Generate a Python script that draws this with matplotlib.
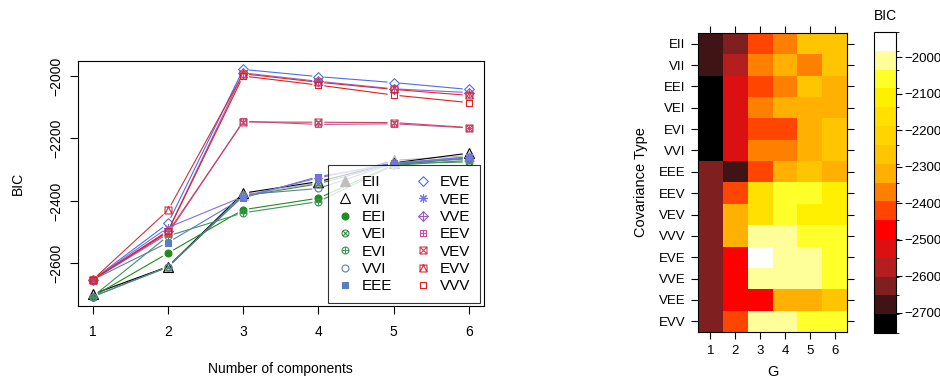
"""BIC curves per covariance model and a BIC heat map by G."""

import matplotlib

matplotlib.use("Agg")
import matplotlib.pyplot as plt
import numpy as np
from matplotlib.colors import BoundaryNorm, ListedColormap
from matplotlib.lines import Line2D
from matplotlib.path import Path

plt.rcParams["font.family"] = ["Liberation Sans", "DejaVu Sans"]

# ---- data -------------------------------------------------------------
components = [1, 2, 3, 4, 5, 6]
models = ["EII", "VII", "EEI", "VEI", "EVI", "VVI", "EEE",
          "EVE", "VEE", "VVE", "EEV", "VEV", "EVV", "VVV"]

bic_EII = [-2698, -2612, -2380, -2342, -2270, -2255]
bic_VII = [-2698, -2610, -2375, -2338, -2278, -2247]
bic_EEI = [-2706, -2567, -2428, -2391, -2284, -2262]
bic_VEI = [-2706, -2610, -2385, -2345, -2280, -2275]
bic_EVI = [-2706, -2512, -2438, -2402, -2286, -2270]
bic_VVI = [-2706, -2612, -2380, -2360, -2280, -2265]
bic_EEE = [-2652, -2533, -2390, -2322, -2281, -2258]
bic_EVE = [-2652, -2472, -1979, -2002, -2021, -2043]
bic_VEE = [-2652, -2485, -2386, -2326, -2278, -2260]
bic_VVE = [-2652, -2495, -1990, -2017, -2041, -2053]
bic_EEV = [-2652, -2505, -2145, -2155, -2153, -2166]
bic_VEV = [-2652, -2500, -2147, -2148, -2149, -2165]
bic_EVV = [-2652, -2430, -1993, -2020, -2043, -2062]
bic_VVV = [-2652, -2497, -2000, -2029, -2061, -2085]

bic_curves = [bic_EII, bic_VII, bic_EEI, bic_VEI, bic_EVI, bic_VVI, bic_EEE,
              bic_EVE, bic_VEE, bic_VVE, bic_EEV, bic_VEV, bic_EVV, bic_VVV]

# heat map (second fit), rows top to bottom, columns G = 1..6
heat_rows = ["EII", "VII", "EEI", "VEI", "EVI", "VVI", "EEE",
             "EEV", "VEV", "VVV", "EVE", "VVE", "VEE", "EVV"]
heat_g = [1, 2, 3, 4, 5, 6]
heat_bic = [
    [-2690, -2640, -2415, -2360, -2270, -2265],
    [-2690, -2590, -2375, -2330, -2380, -2262],
    [-2725, -2530, -2430, -2370, -2255, -2300],
    [-2725, -2528, -2365, -2320, -2315, -2310],
    [-2725, -2526, -2425, -2420, -2305, -2270],
    [-2725, -2526, -2375, -2372, -2305, -2268],
    [-2640, -2680, -2420, -2310, -2265, -2320],
    [-2640, -2410, -2160, -2060, -2065, -2100],
    [-2640, -2320, -2155, -2055, -2095, -2100],
    [-2640, -2320, -2010, -2005, -2050, -2055],
    [-2640, -2480, -1950, -2020, -2025, -2045],
    [-2640, -2480, -2015, -2020, -2020, -2045],
    [-2640, -2485, -2470, -2325, -2320, -2270],
    [-2640, -2420, -2000, -2005, -2060, -2060],
]
bic_ticks = [-2700, -2600, -2500, -2400, -2300, -2200, -2100, -2000]
level_lo, level_hi, n_levels = -2755, -1931, 16

# ---- styles -------------------------------------------------------------
MV = Path.MOVETO
LT = Path.LINETO
CP = Path.CLOSEPOLY
SQUARE = Path([(-1, -1), (1, -1), (1, 1), (-1, 1), (-1, -1)], [MV, LT, LT, LT, CP])
DIAMOND = Path([(0, -1), (1, 0), (0, 1), (-1, 0), (0, -1)], [MV, LT, LT, LT, CP])
PLUS = Path([(-1, 0), (1, 0), (0, -1), (0, 1)], [MV, LT, MV, LT])
CROSS_C = Path([(-0.71, -0.71), (0.71, 0.71), (-0.71, 0.71), (0.71, -0.71)], [MV, LT, MV, LT])
CROSS_S = Path([(-1, -1), (1, 1), (-1, 1), (1, -1)], [MV, LT, MV, LT])
TRI_S = Path([(-1, -1), (0, 1), (1, -1)], [MV, LT, LT])

markers = {
    "EII": ("^", True, 6.5), "VII": ("^", False, 6.5), "EEI": ("o", True, 5.0),
    "VEI": (Path.make_compound_path(Path.unit_circle(), CROSS_C), False, 5.0),
    "EVI": (Path.make_compound_path(Path.unit_circle(), PLUS), False, 5.0),
    "VVI": ("o", False, 5.0), "EEE": ("s", True, 5.0),
    "EVE": (DIAMOND, False, 7.0), "VEE": ((8, 2, 0), False, 6.0),
    "VVE": (Path.make_compound_path(DIAMOND, PLUS), False, 7.0),
    "EEV": (Path.make_compound_path(SQUARE, PLUS), False, 5.0),
    "VEV": (Path.make_compound_path(SQUARE, CROSS_S), False, 5.0),
    "EVV": (Path.make_compound_path(SQUARE, TRI_S), False, 5.0),
    "VVV": (SQUARE, False, 5.0),
}
colors = {
    "EII": "#bebebe", "VII": "#000000", "EEI": "#218b21", "VEI": "#41884f",
    "EVI": "#3f9656", "VVI": "#58819c", "EEE": "#597dc3", "EVE": "#4a6fe8",
    "VEE": "#7b72ea", "VVE": "#9b5fc8", "EEV": "#c0519e", "VEV": "#c9445f",
    "EVV": "#d12f3c", "VVV": "#e0201c",
}
heat_colors = ["#000000", "#401414", "#7f1f1f", "#b41e1e", "#dc1010", "#ff0000",
               "#ff4500", "#ff8000", "#ffb000", "#ffc500", "#ffd400", "#ffe000",
               "#fff000", "#ffff2a", "#ffff99", "#ffffff"]


def draw_gapped_line(ax, x, y, color, gap_px=6.0):
    """Connect points like R's type='b', leaving a gap around each point."""
    pts = ax.transData.transform(np.column_stack([x, y]))
    inv = ax.transData.inverted()
    for p0, p1 in zip(pts[:-1], pts[1:]):
        d = p1 - p0
        n = np.hypot(*d)
        if n <= 2 * gap_px:
            continue
        u = d / n
        seg = inv.transform(np.array([p0 + u * gap_px, p1 - u * gap_px]))
        ax.plot(seg[:, 0], seg[:, 1], color=color, lw=0.8, solid_capstyle="butt")


def plot_bic_curves(fig):
    ax = fig.add_axes([0.0827, 0.1969, 0.4319, 0.6430])
    ax.set_xlim(0.8, 6.2)
    ax.set_ylim(-2736, -1952)
    handles = []
    for name, vals in zip(models, bic_curves):
        mk, filled, ms = markers[name]
        col = colors[name]
        draw_gapped_line(ax, components, vals, col)
        kw = dict(marker=mk, markersize=ms, markeredgewidth=0.8, markeredgecolor=col,
                  markerfacecolor=col if filled else "none", linestyle="none")
        ax.plot(components, vals, **kw)
        handles.append(Line2D([], [], label=name, **kw))

    ax.set_xticks(components)
    ax.set_yticks([-2600, -2400, -2200, -2000])
    ax.tick_params(direction="out", length=6, width=0.8, labelsize=10)
    ax.tick_params(axis="x", pad=8)
    ax.tick_params(axis="y", pad=4)
    for lab in ax.get_yticklabels():
        lab.set_rotation(90)
        lab.set_va("center")
    for sp in ax.spines.values():
        sp.set_linewidth(0.8)
    ax.set_xlabel("Number of components", fontsize=10, labelpad=16)
    ax.set_ylabel("BIC", fontsize=10, labelpad=18)

    leg = ax.legend(handles=handles, ncol=2, loc="lower right",
                    bbox_to_anchor=(480 / 940, 1 - 303.3 / 381),
                    bbox_transform=fig.transFigure, borderaxespad=0,
                    fontsize=11, frameon=True, fancybox=False, edgecolor="black",
                    handlelength=1.0, handletextpad=0.6, columnspacing=1.5,
                    labelspacing=0.22, borderpad=0.65)
    leg.get_frame().set_linewidth(0.8)
    return ax


def plot_heatmap(fig):
    ax = fig.add_axes([0.7426, 0.1286, 0.1585, 0.7848])
    cmap = ListedColormap(heat_colors)
    norm = BoundaryNorm(np.linspace(level_lo, level_hi, n_levels + 1), n_levels)
    mesh = ax.pcolormesh(np.arange(0.5, len(heat_g) + 1), np.arange(-0.5, len(heat_rows)),
                         np.array(heat_bic), cmap=cmap, norm=norm)
    ax.set_ylim(len(heat_rows) - 0.5, -0.5)
    ax.set_xticks(heat_g)
    ax.set_yticks(range(len(heat_rows)))
    ax.set_yticklabels(heat_rows)
    ax.tick_params(direction="out", length=5, width=0.8, labelsize=9.5,
                   top=True, right=True, pad=4)
    for sp in ax.spines.values():
        sp.set_linewidth(0.8)
    ax.set_xlabel("G", fontsize=10.5, labelpad=6)
    ax.set_ylabel("Covariance Type", fontsize=10.5, labelpad=8)

    cax = fig.add_axes([874 / 940, 1 - 333 / 381, 22 / 940, 301 / 381])
    cb = fig.colorbar(mesh, cax=cax, ticks=bic_ticks)
    cb.outline.set_linewidth(0.8)
    cax.tick_params(direction="out", length=4, width=0.8, labelsize=9.5, pad=2)
    cax.set_title("BIC", fontsize=10, pad=9)
    return ax


def main():
    fig = plt.figure(figsize=(9.4, 3.81), dpi=100)
    plot_bic_curves(fig)
    plot_heatmap(fig)
    fig.savefig("out.png", dpi=100)
    plt.close(fig)


if __name__ == "__main__":
    main()
